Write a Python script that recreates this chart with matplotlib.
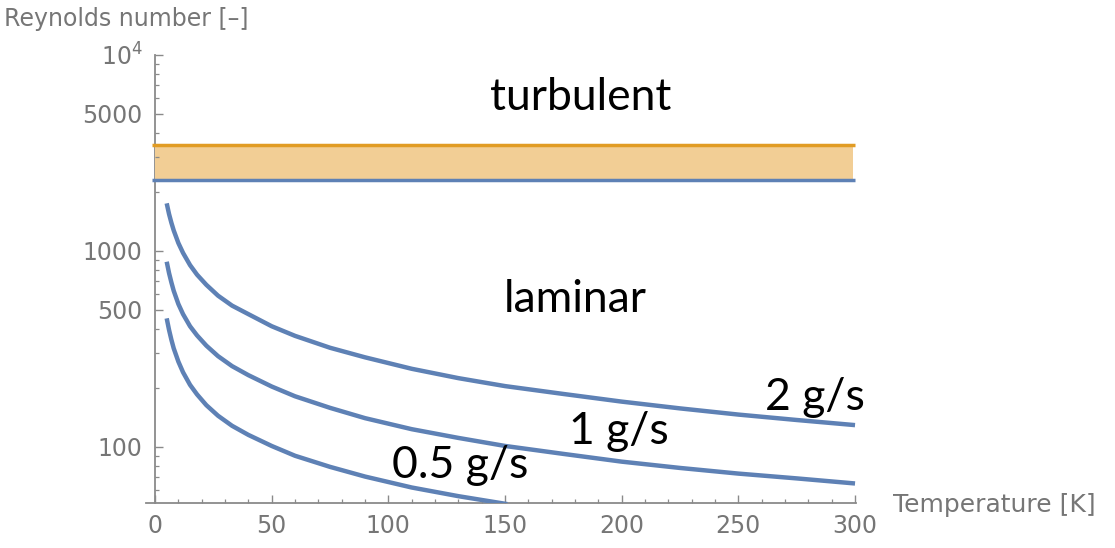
import matplotlib
matplotlib.use("Agg")
import matplotlib.pyplot as plt
from matplotlib.ticker import FixedLocator, FixedFormatter, NullFormatter

# ---- data ----
T_2 = [5, 6, 7, 8, 10, 12, 15, 18, 22, 27, 33, 40, 50, 60, 75, 90, 110, 130, 150,
       175, 200, 225, 250, 275, 300]
Re_2 = [1745, 1540, 1390, 1270, 1095, 975, 845, 755, 670, 590, 525, 475, 412, 368, 320,
        286, 250, 224, 204, 186, 170, 157, 146, 137, 129]

T_1 = [5, 6, 7, 8, 10, 12, 15, 18, 22, 27, 33, 40, 50, 60, 75, 90, 110, 130, 150,
       175, 200, 225, 250, 275, 300]
Re_1 = [879, 770, 690, 625, 535, 475, 412, 370, 328, 290, 258, 232, 203, 181, 158,
        140, 123, 111, 101, 92, 84, 78, 73, 69, 65]

T_05 = [5, 6, 7, 8, 10, 12, 15, 18, 22, 27, 33, 40, 50, 60, 75, 90, 110, 130, 151]
Re_05 = [452, 395, 352, 318, 272, 240, 207, 185, 163, 144, 128, 115, 101, 90, 79,
         70.5, 62, 56, 51]

Re_lam = 2300      # lower bound of transition band
Re_turb = 3450     # upper bound of transition band
T_range = [-1.5, 300]

series_labels = ["2 g/s", "1 g/s", "0.5 g/s"]
ytick_major = [100, 500, 1000, 5000, 10000]
ytick_labels = ["100", "500", "1000", "5000", r"$10^4$"]
ytick_minor = [60, 70, 80, 90, 200, 300, 400, 600, 700, 800, 900,
               2000, 3000, 4000, 6000, 7000, 8000, 9000]
xtick_major = [0, 50, 100, 150, 200, 250, 300]
xtick_minor = [v for v in range(10, 300, 10) if v % 50 != 0]

# ---- style ----
BLUE = "#5E81B5"
ORANGE = "#E19C24"
FILL = "#F2CE95"
GRAY = "#8a8a8a"
TXT = "#767676"

W, H = 1115, 548
fig = plt.figure(figsize=(W / 100, H / 100), dpi=100)
x0_px, x1_px = 145.7, 856.2
ybot_px, ytop_px = 503.3, 54.7
ax = fig.add_axes([x0_px / W, (H - ybot_px) / H, (x1_px - x0_px) / W, (ybot_px - ytop_px) / H])

ax.set_yscale("log")
ax.set_xlim(-4, 300.5)
ax.set_ylim(51.5, 10000)

# transition band
ax.fill_between([0, 299.3], Re_lam, Re_turb, color=FILL, lw=0, zorder=1)
ax.plot(T_range, [Re_turb, Re_turb], color=ORANGE, lw=2.5, zorder=2, solid_capstyle="butt")
ax.plot(T_range, [Re_lam, Re_lam], color=BLUE, lw=2.5, zorder=2, solid_capstyle="butt")

for T, Re in [(T_2, Re_2), (T_1, Re_1), (T_05, Re_05)]:
    ax.plot(T, Re, color=BLUE, lw=3.2, zorder=3, solid_capstyle="butt",
            solid_joinstyle="round")

# axes styling (Mathematica-like)
for s in ["top", "right"]:
    ax.spines[s].set_visible(False)
ax.spines["left"].set_position(("data", 0))
ax.spines["left"].set_color(GRAY)
ax.spines["bottom"].set_color(GRAY)
ax.spines["left"].set_linewidth(1.3)
ax.spines["bottom"].set_linewidth(1.3)
ax.spines["left"].set_zorder(0.5)

ax.yaxis.set_major_locator(FixedLocator(ytick_major))
ax.yaxis.set_major_formatter(FixedFormatter(ytick_labels))
ax.yaxis.set_minor_locator(FixedLocator(ytick_minor))
ax.yaxis.set_minor_formatter(NullFormatter())
ax.xaxis.set_major_locator(FixedLocator(xtick_major))
ax.xaxis.set_minor_locator(FixedLocator(xtick_minor))

ax.tick_params(axis="both", which="major", direction="in", length=5.5, width=1.0,
               color=GRAY, labelcolor=TXT, labelsize=17)
ax.tick_params(axis="both", which="minor", direction="in", length=3.2, width=0.9, color=GRAY)
ax.tick_params(axis="y", pad=9)
ax.tick_params(axis="x", pad=8)

# axis labels
fig.text(4 / W, 1 - 19 / H, "Reynolds number [\u2013]", color=TXT, fontsize=17,
         ha="left", va="center")
fig.text(893 / W, 1 - 505 / H, "Temperature [K]", color=TXT, fontsize=18,
         ha="left", va="center")

# annotations
ann_font = dict(color="black", fontsize=32, family="Lato", ha="center", va="center")
fig.text(581 / W, 1 - 98 / H, "turbulent", **ann_font)
fig.text(575 / W, 1 - 300 / H, "laminar", **ann_font)
fig.text(815 / W, 1 - 398 / H, series_labels[0], **ann_font)
fig.text(619 / W, 1 - 431 / H, series_labels[1], **ann_font)
fig.text(460 / W, 1 - 466 / H, series_labels[2], **ann_font)

fig.savefig("out.png", dpi=100, facecolor="white")
